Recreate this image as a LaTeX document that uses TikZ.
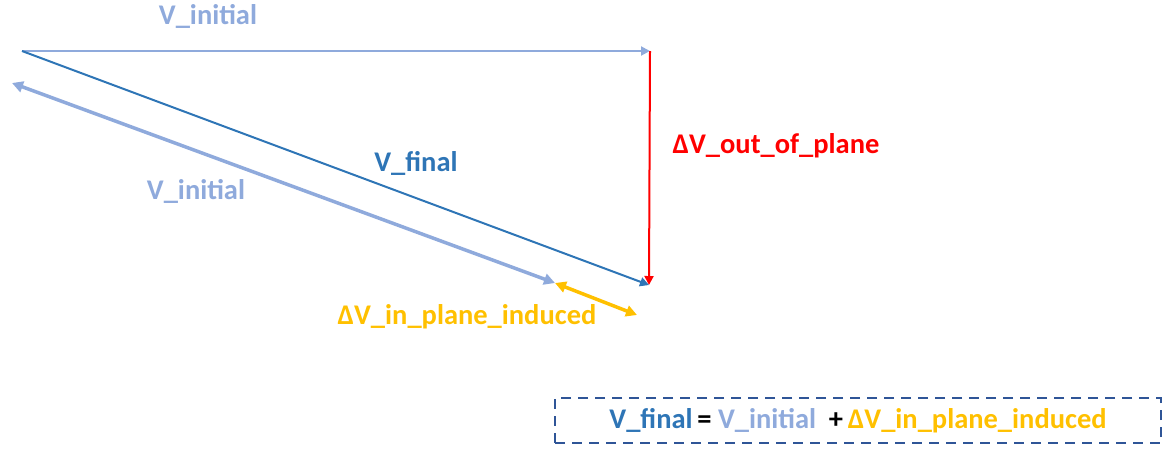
\documentclass[tikz,border=0pt]{standalone}
\usepackage{fontspec}
\setmainfont{Carlito}
\usetikzlibrary{arrows.meta,positioning}
\definecolor{vinit}{HTML}{8FAADC}
\definecolor{vfinal}{HTML}{2E75B6}
\definecolor{boxblue}{HTML}{2F5597}
\definecolor{vind}{HTML}{FFC000}
\definecolor{vout}{HTML}{FF0000}

\begin{document}
\begin{tikzpicture}[
  x=1pt, y=-1pt,
  lbl/.style={font=\bfseries\fontsize{28.5}{32}\selectfont, inner sep=0pt},
  vec/.style={line width=2pt, -{Triangle[length=9pt,width=9pt]}},
  thickvec/.style={line width=3.5pt, {Triangle[length=11pt,width=11pt]}-{Triangle[length=11pt,width=11pt]}}
]
\useasboundingbox (0,0) rectangle (1170,451);

% Punkte
\coordinate (start) at (22,51);
\coordinate (corner) at (650,51);
\coordinate (tip) at (649,285);
\coordinate (back) at (12,83);
\coordinate (mid) at (555,283);
\coordinate (ind) at (637,315);

% Vektoren
\draw[vec, vinit] (start) -- (corner);
\draw[vec, vout] (corner) -- (tip);
\draw[vec, vfinal] (start) -- (tip);
\draw[thickvec, vinit] (back) -- (mid);
\draw[thickvec, vind] (mid) -- (ind);

% Beschriftungen
\node[lbl, text=vinit] (vtop) at (208,16) {V\_initial};
\node[lbl, text=vfinal] (vfin) at (416,163) {V\_final};
\node[lbl, text=vinit] (vlow) at (196,191) {V\_initial};
\node[lbl, text=vout] (dvout) at (776,146) {ΔV\_out\_of\_plane};
\node[lbl, text=vind] (dvind) at (467,317) {ΔV\_in\_plane\_induced};

% Formel
\node[lbl, draw=boxblue, line width=2pt, dash pattern=on 10pt off 7pt,
  minimum width=606pt, minimum height=45pt] (formel) at (858,420.5)
  {\textcolor{vfinal}{V\_final}\,=\ \textcolor{vinit}{V\_initial}\ \ +\,\textcolor{vind}{ΔV\_in\_plane\_induced}};

\end{tikzpicture}
\end{document}
